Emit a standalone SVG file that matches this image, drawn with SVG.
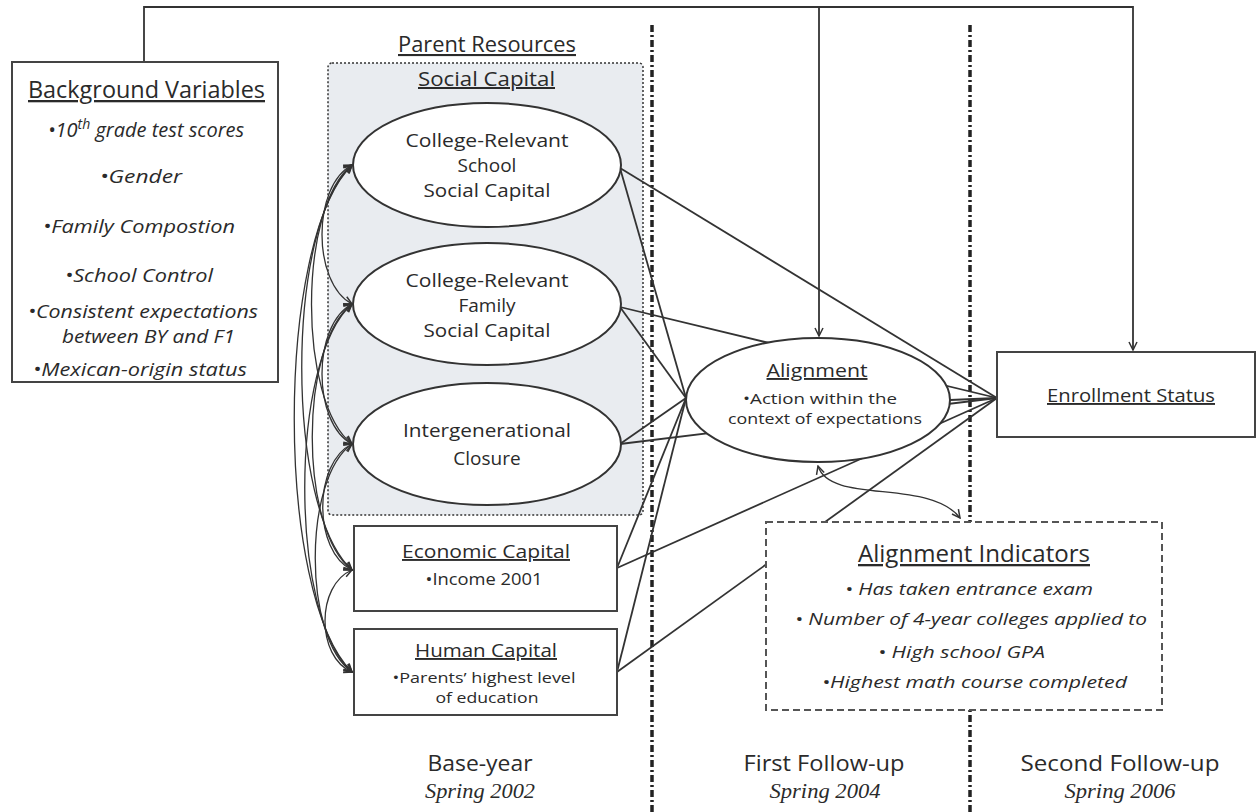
<svg xmlns="http://www.w3.org/2000/svg" width="1257" height="812" viewBox="0 0 1257 812">
<style>
text{font-family:"Open Sans","Liberation Sans",sans-serif;fill:#2a2a2a}
.h{font-size:20px;text-decoration:underline}
.t{font-size:19px}
.s{font-size:15px}
.i{font-style:italic;font-size:19px}
.sp{font-family:"Liberation Serif",serif;font-style:italic;font-size:20px}
.box{fill:#fff;stroke:#444;stroke-width:2}
.ell{fill:#fff;stroke:#333;stroke-width:2}
.ln{stroke:#333;stroke-width:1.8;fill:none}
.cv{stroke:#333;stroke-width:1.3;fill:none}
.div{stroke:#222;stroke-width:3.5;stroke-dasharray:7 3 2 3}
</style>
<defs>
<marker id="ah" viewBox="0 0 10 10" refX="9" refY="5" markerWidth="10" markerHeight="10" markerUnits="userSpaceOnUse" orient="auto-start-reverse">
<path d="M1,1 L9,5 L1,9" fill="none" stroke="#333" stroke-width="1.5"/>
</marker>
</defs>
<rect width="1257" height="812" fill="#fff"/>
<g id="dividers">
<line class="div" x1="652" y1="25" x2="652" y2="812"/>
<line class="div" x1="970" y1="25" x2="970" y2="812"/>
</g>
<g id="social-capital-group">
<rect x="328" y="63" width="315" height="452" rx="4" fill="#e9ecf0" stroke="#333" stroke-width="1.5" stroke-dasharray="2 2"/>
<text class="h" x="418" y="86" textLength="137" lengthAdjust="spacingAndGlyphs">Social Capital</text>
</g>
<g id="connectors">
<path class="ln" d="M144,62 V7 H1133 V350" marker-end="url(#ah)"/>
<path class="ln" d="M819,7 V336" marker-end="url(#ah)"/>
<line class="ln" x1="620" y1="168" x2="686" y2="398"/>
<line class="ln" x1="620" y1="168" x2="997" y2="398"/>
<line class="ln" x1="620" y1="307" x2="686" y2="398"/>
<line class="ln" x1="620" y1="307" x2="997" y2="398"/>
<line class="ln" x1="620" y1="444" x2="686" y2="398"/>
<line class="ln" x1="620" y1="444" x2="997" y2="398"/>
<line class="ln" x1="617" y1="568" x2="686" y2="398"/>
<line class="ln" x1="617" y1="568" x2="997" y2="398"/>
<line class="ln" x1="617" y1="672" x2="686" y2="398"/>
<line class="ln" x1="617" y1="672" x2="997" y2="398"/>
<line class="ln" x1="950" y1="400" x2="997" y2="398"/>
<path class="cv" d="M818,466 C830,505 930,478 960,518" marker-start="url(#ah)" marker-end="url(#ah)"/>
<path class="cv" d="M352,165 C312,186 312,283 352,304" marker-start="url(#ah)" marker-end="url(#ah)"/>
<path class="cv" d="M352,165 C298,207 298,402 352,444" marker-start="url(#ah)" marker-end="url(#ah)"/>
<path class="cv" d="M352,165 C285,226 285,509 352,570" marker-start="url(#ah)" marker-end="url(#ah)"/>
<path class="cv" d="M352,165 C275,241 275,596 352,672" marker-start="url(#ah)" marker-end="url(#ah)"/>
<path class="cv" d="M352,304 C312,325 312,423 352,444" marker-start="url(#ah)" marker-end="url(#ah)"/>
<path class="cv" d="M352,304 C299,344 299,530 352,570" marker-start="url(#ah)" marker-end="url(#ah)"/>
<path class="cv" d="M352,304 C289,359 289,617 352,672" marker-start="url(#ah)" marker-end="url(#ah)"/>
<path class="cv" d="M352,444 C313,463 313,551 352,570" marker-start="url(#ah)" marker-end="url(#ah)"/>
<path class="cv" d="M352,444 C303,478 303,638 352,672" marker-start="url(#ah)" marker-end="url(#ah)"/>
<path class="cv" d="M352,570 C316,585 316,657 352,672" marker-start="url(#ah)" marker-end="url(#ah)"/>
</g>
<g id="background-variables">
<rect class="box" x="12" y="62" width="266" height="320"/>
<text class="h" x="28" y="98" style="font-size:23px" textLength="237" lengthAdjust="spacingAndGlyphs">Background Variables</text>
<text class="i" x="48" y="137" style="font-size:20px">•10<tspan dy="-8" font-size="14">th</tspan><tspan dy="8"> grade test scores</tspan></text>
<text class="i" x="100" y="183" textLength="82" lengthAdjust="spacingAndGlyphs">•Gender</text>
<text class="i" x="43" y="233" textLength="192" lengthAdjust="spacingAndGlyphs">•Family Compostion</text>
<text class="i" x="65" y="282" textLength="148" lengthAdjust="spacingAndGlyphs">•School Control</text>
<text class="i" x="28" y="318" textLength="230" lengthAdjust="spacingAndGlyphs">•Consistent expectations</text>
<text class="i" x="62" y="343" textLength="173" lengthAdjust="spacingAndGlyphs">between BY and F1</text>
<text class="i" x="33" y="376" textLength="214" lengthAdjust="spacingAndGlyphs">•Mexican-origin status</text>
</g>
<g id="parent-resources">
<text class="h" x="398" y="52" style="font-size:21px" textLength="178" lengthAdjust="spacingAndGlyphs">Parent Resources</text>
</g>
<g id="school-social-capital">
<ellipse class="ell" cx="487" cy="165" rx="134" ry="62"/>
<text class="t" x="487" y="147" text-anchor="middle" textLength="163" lengthAdjust="spacingAndGlyphs">College-Relevant</text>
<text class="t" x="487" y="172" text-anchor="middle">School</text>
<text class="t" x="487" y="197" text-anchor="middle" textLength="127" lengthAdjust="spacingAndGlyphs">Social Capital</text>
</g>
<g id="family-social-capital">
<ellipse class="ell" cx="487" cy="304" rx="134" ry="61"/>
<text class="t" x="487" y="287" text-anchor="middle" textLength="163" lengthAdjust="spacingAndGlyphs">College-Relevant</text>
<text class="t" x="487" y="312" text-anchor="middle">Family</text>
<text class="t" x="487" y="337" text-anchor="middle" textLength="127" lengthAdjust="spacingAndGlyphs">Social Capital</text>
</g>
<g id="intergenerational-closure">
<ellipse class="ell" cx="487" cy="444" rx="134" ry="61"/>
<text class="t" x="487" y="437" text-anchor="middle" textLength="168" lengthAdjust="spacingAndGlyphs">Intergenerational</text>
<text class="t" x="487" y="465" text-anchor="middle">Closure</text>
</g>
<g id="economic-capital">
<rect class="box" x="354" y="526" width="263" height="85"/>
<text class="h" x="486" y="558" text-anchor="middle" style="font-size:19px" textLength="168" lengthAdjust="spacingAndGlyphs">Economic Capital</text>
<text class="s" x="484" y="585" text-anchor="middle" style="font-size:16px" textLength="117" lengthAdjust="spacingAndGlyphs">•Income 2001</text>
</g>
<g id="human-capital">
<rect class="box" x="354" y="629" width="263" height="86"/>
<text class="h" x="486" y="657" text-anchor="middle" style="font-size:19px" textLength="142" lengthAdjust="spacingAndGlyphs">Human Capital</text>
<text class="s" x="484" y="683" text-anchor="middle" textLength="183" lengthAdjust="spacingAndGlyphs">•Parents’ highest level</text>
<text class="s" x="487" y="703" text-anchor="middle" textLength="103" lengthAdjust="spacingAndGlyphs">of education</text>
</g>
<g id="alignment">
<ellipse class="ell" cx="818" cy="400" rx="132" ry="62"/>
<text class="h" x="817" y="377" text-anchor="middle" style="font-size:19px" textLength="101" lengthAdjust="spacingAndGlyphs">Alignment</text>
<text class="s" x="820" y="404" text-anchor="middle" textLength="154" lengthAdjust="spacingAndGlyphs">•Action within the</text>
<text class="s" x="825" y="424" text-anchor="middle" textLength="194" lengthAdjust="spacingAndGlyphs">context of expectations</text>
</g>
<g id="enrollment-status">
<rect class="box" x="997" y="352" width="258" height="85"/>
<text class="h" x="1131" y="402" text-anchor="middle" style="font-size:19px" textLength="168" lengthAdjust="spacingAndGlyphs">Enrollment Status</text>
</g>
<g id="alignment-indicators">
<rect x="766" y="522" width="396" height="188" fill="#fff" stroke="#555" stroke-width="2" stroke-dasharray="7 4"/>
<text class="h" x="974" y="562" text-anchor="middle" style="font-size:23px" textLength="232" lengthAdjust="spacingAndGlyphs">Alignment Indicators</text>
<text class="i" x="845" y="595" style="font-size:17px" textLength="248" lengthAdjust="spacingAndGlyphs">• Has taken entrance exam</text>
<text class="i" x="795" y="625" style="font-size:17px" textLength="352" lengthAdjust="spacingAndGlyphs">• Number of 4-year colleges applied to</text>
<text class="i" x="878" y="658" style="font-size:17px" textLength="167" lengthAdjust="spacingAndGlyphs">• High school GPA</text>
<text class="i" x="822" y="688" style="font-size:17px" textLength="305" lengthAdjust="spacingAndGlyphs">•Highest math course completed</text>
</g>
<g id="time-labels">
<text x="480" y="771" text-anchor="middle" style="font-size:21px" textLength="105" lengthAdjust="spacingAndGlyphs">Base-year</text>
<text class="sp" x="480" y="798" text-anchor="middle" textLength="110" lengthAdjust="spacingAndGlyphs">Spring 2002</text>
<text x="824" y="771" text-anchor="middle" style="font-size:21px" textLength="161" lengthAdjust="spacingAndGlyphs">First Follow-up</text>
<text class="sp" x="825" y="798" text-anchor="middle" textLength="111" lengthAdjust="spacingAndGlyphs">Spring 2004</text>
<text x="1120" y="771" text-anchor="middle" style="font-size:21px" textLength="199" lengthAdjust="spacingAndGlyphs">Second Follow-up</text>
<text class="sp" x="1120" y="798" text-anchor="middle" textLength="111" lengthAdjust="spacingAndGlyphs">Spring 2006</text>
</g>
</svg>
